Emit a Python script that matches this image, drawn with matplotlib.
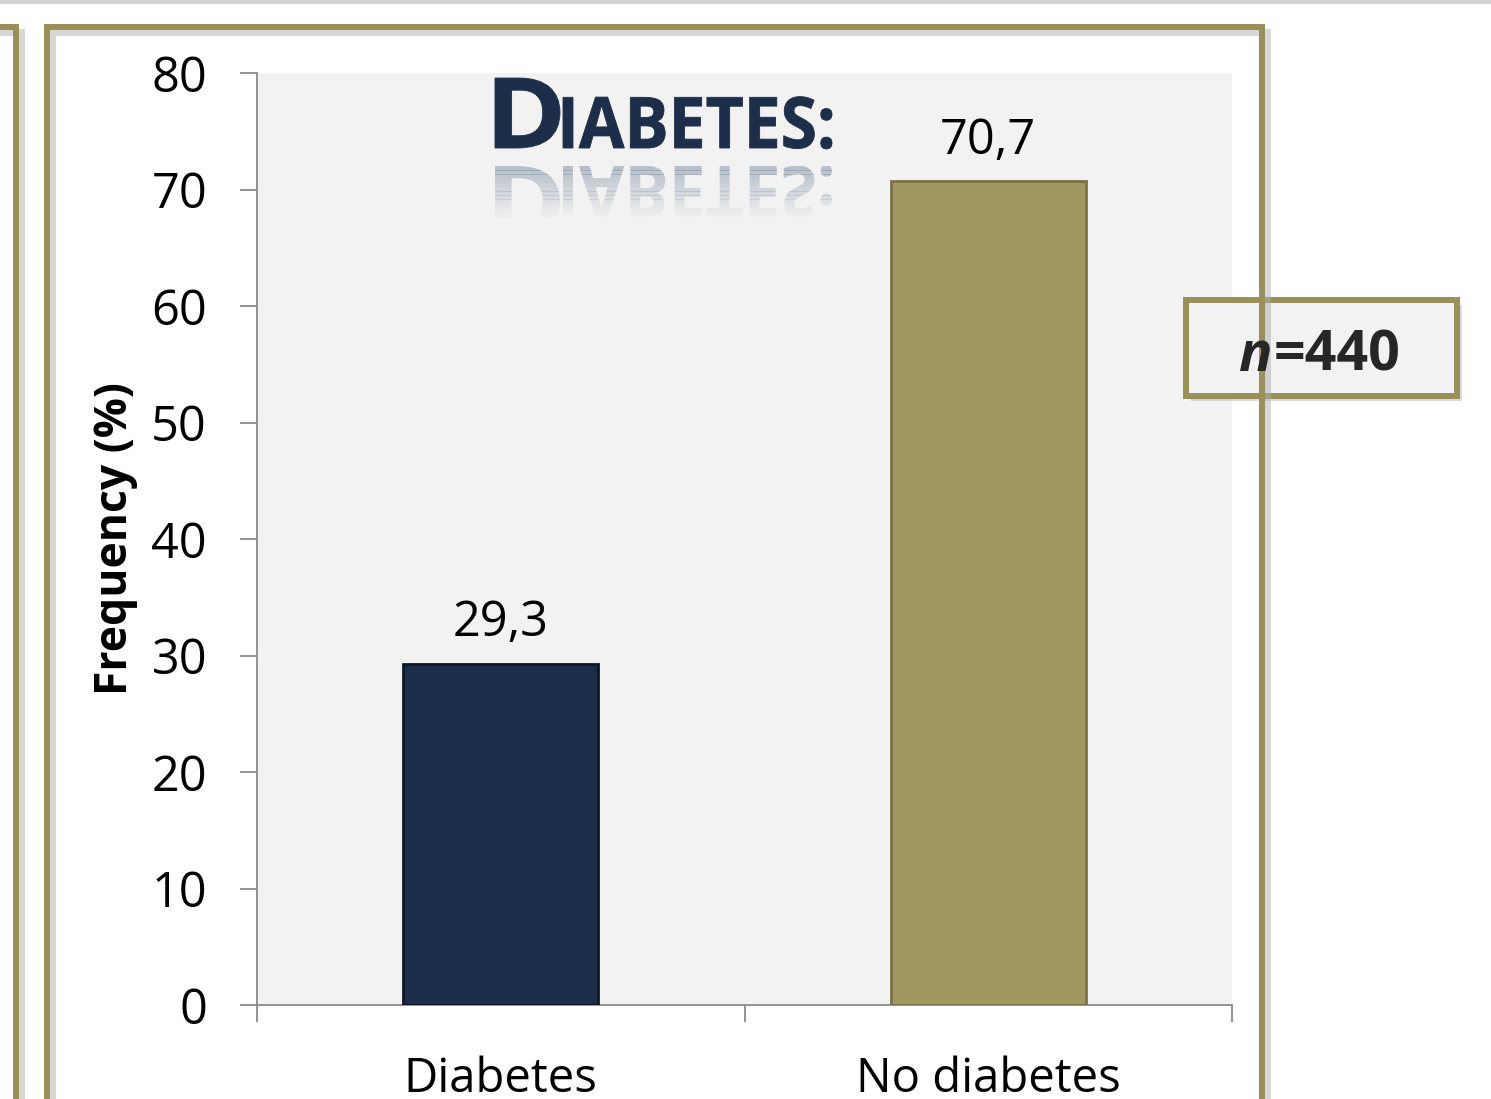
import matplotlib.pyplot as plt
import matplotlib.transforms as mtransforms
from matplotlib.textpath import TextPath
from matplotlib.font_manager import FontProperties
from matplotlib.patches import PathPatch, Rectangle
from matplotlib.lines import Line2D

categories = ['Diabetes', 'No diabetes']
freq = [29.3, 70.7]
value_labels = ['29,3', '70,7']
bar_colors = ['#1b2d49', '#a09660']
edge_colors = ['#0d1828', '#7a7044']
yticks = [0, 10, 20, 30, 40, 50, 60, 70, 80]

W, H = 1491, 1099
OLIVE = '#9a8e59'
NAVY = '#1c2e4a'

plt.rcParams['font.family'] = ['Open Sans', 'DejaVu Sans']
fig = plt.figure(figsize=(W / 100, H / 100), dpi=100, facecolor='white')
# pixel coords measured from the top-left corner
pix = mtransforms.Affine2D().scale(1 / W, -1 / H).translate(0, 1) + fig.transFigure

# light band at the very top
fig.add_artist(Line2D([0, W], [2, 2], color='#d4d4d4', lw=3, transform=pix))

# panel frames (shadow first)
def frame(xs, ys):
    fig.add_artist(Line2D([x + 5 for x in xs], [y + 5 for y in ys], color='#b0b0b0',
                          lw=5, alpha=0.5, transform=pix, solid_joinstyle='miter'))
    fig.add_artist(Line2D(xs, ys, color=OLIVE, lw=4.3, transform=pix,
                          solid_joinstyle='miter'))

frame([-10, 16, 16], [27, 27, H + 10])
frame([47, 47, 1262, 1262], [H + 10, 27, 27, H + 10])

ax = fig.add_axes([257 / W, 1 - 1005 / H, 975 / W, 932 / H])
ax.set_facecolor('#f2f2f2')
x = range(len(categories))
ax.bar(x, freq, width=0.4, color=bar_colors, edgecolor=edge_colors, linewidth=2, zorder=3)
for xi, v, lab in zip(x, freq, value_labels):
    ax.annotate(lab, (xi, v), xytext=(0, 11), textcoords='offset points',
                ha='center', va='bottom', fontsize=35, color='black')

ax.set_xlim(-0.5, 1.5)
ax.set_ylim(0, 80)
ax.set_yticks(yticks)
ax.set_xticks(list(x))
ax.set_xticklabels(categories)
ax.set_xticks([-0.5, 0.5, 1.5], minor=True)
for s in ['top', 'right']:
    ax.spines[s].set_visible(False)
for s in ['left', 'bottom']:
    ax.spines[s].set_color('#8a8a8a')
    ax.spines[s].set_linewidth(1.3)
ax.tick_params(axis='y', length=12, width=1.3, color='#8a8a8a', pad=24, labelsize=35)
ax.tick_params(axis='x', which='major', length=0, pad=36, labelsize=34)
ax.tick_params(axis='x', which='minor', length=12, width=1.3, color='#8a8a8a')
ax.set_ylabel('Frequency (%)', fontsize=32, fontweight='bold')
ax.yaxis.set_label_coords(-0.122, 0.5)

# "DIABETES:" heading in small caps with a fading reflection
fp = FontProperties(family='Open Sans', weight='bold')
big = TextPath((0, 0), 'D', size=98, prop=fp)
small = TextPath((0, 0), 'IABETES:', size=71, prop=fp)
bb_big = big.get_extents()
bb_small = small.get_extents()
sx_big = 65 / bb_big.width
sx_small = 269 / bb_small.width
pieces = [(big, 495 - bb_big.x0 * sx_big, sx_big), (small, 563 - bb_small.x0 * sx_small, sx_small)]
base = 148
for p, x0, sx in pieces:
    tr = mtransforms.Affine2D().scale(sx, -1).translate(x0, base) + pix
    fig.add_artist(PathPatch(p, facecolor=NAVY, edgecolor=NAVY, lw=0.6, transform=tr))
nstrip = 12
top_ref, bot_ref = 166, 216
for k in range(nstrip):
    y0 = top_ref + (bot_ref - top_ref) * k / nstrip
    h = (bot_ref - top_ref) / nstrip
    clip = Rectangle((480, y0), 400, h + 0.5, transform=pix)
    for p, x0, sx in pieces:
        tr = mtransforms.Affine2D().scale(sx, 1).translate(x0, top_ref) + pix
        pp = PathPatch(p, facecolor='#7e8ea3', edgecolor='none', transform=tr,
                       alpha=0.5 * (1 - k / nstrip))
        pp.set_clip_path(clip)
        fig.add_artist(pp)

# n=440 box
fig.add_artist(Rectangle((1191, 305), 271, 96, facecolor='#b8b8b8', alpha=0.5,
                         edgecolor='none', transform=pix))
fig.add_artist(Rectangle((1186, 300), 271, 96, facecolor='#f2f2f2', edgecolor=OLIVE,
                         lw=4.3, transform=pix))
fig.text(1272 / W, 1 - 350 / H, 'n', fontsize=40, fontweight='bold', style='italic',
         ha='right', va='center_baseline', color='#262626')
fig.text(1274 / W, 1 - 350 / H, '=440', fontsize=40, fontweight='bold',
         ha='left', va='center_baseline', color='#262626')

fig.savefig('out.png', dpi=100, facecolor='white')
